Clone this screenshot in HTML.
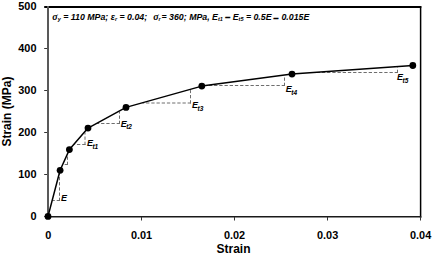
<!DOCTYPE html>
<html><head><meta charset="utf-8">
<style>
html,body{margin:0;padding:0;background:#fff;}
body{width:435px;height:256px;overflow:hidden;position:relative;}
svg{position:absolute;left:0;top:0;}
text{font-family:"Liberation Sans",sans-serif;}
.tl{font-size:11.5px;font-weight:bold;fill:#000;}
.an{font-size:8.8px;font-weight:bold;font-style:italic;fill:#000;}
.sb{font-size:5.5px;font-weight:bold;font-style:italic;fill:#000;}
.lb{font-size:9px;font-weight:bold;font-style:italic;fill:#000;}
.ls{font-size:6.5px;font-weight:bold;font-style:italic;fill:#000;}
.sg{font-family:'Liberation Serif',serif;font-size:10px;font-weight:bold;font-style:italic;}
.ti{font-size:12px;font-weight:bold;fill:#000;}
</style></head>
<body>
<svg width="435" height="256" viewBox="0 0 435 256">
<line x1="44.2" y1="7" x2="421.3" y2="7" stroke="#000" stroke-width="1.8"/>
<line x1="420.6" y1="6.1" x2="420.6" y2="217.8" stroke="#000" stroke-width="1.5"/>
<line x1="47" y1="216.8" x2="421.3" y2="216.8" stroke="#1a1a1a" stroke-width="1.6"/>
<line x1="48" y1="6.1" x2="48" y2="216" stroke="#595959" stroke-width="2"/>
<g stroke="#333" stroke-width="1"><line x1="44.2" y1="48.5" x2="47" y2="48.5"/><line x1="44.2" y1="90.5" x2="47" y2="90.5"/><line x1="44.2" y1="132.5" x2="47" y2="132.5"/><line x1="44.2" y1="174.5" x2="47" y2="174.5"/><line x1="44.2" y1="216.5" x2="47" y2="216.5"/></g>
<g stroke="#333" stroke-width="1"><line x1="141.5" y1="217" x2="141.5" y2="220.5"/><line x1="234.5" y1="217" x2="234.5" y2="220.5"/><line x1="327.5" y1="217" x2="327.5" y2="220.5"/><line x1="420.5" y1="217" x2="420.5" y2="220.5"/></g>
<g class="tl" text-anchor="end">
<text transform="translate(36.5,10.3) scale(0.95,1)">500</text>
<text transform="translate(36.5,51.8) scale(0.95,1)">400</text>
<text transform="translate(36.5,93.8) scale(0.95,1)">300</text>
<text transform="translate(36.5,135.8) scale(0.95,1)">200</text>
<text transform="translate(36.5,177.8) scale(0.95,1)">100</text>
<text transform="translate(36.5,219.8) scale(0.95,1)">0</text>
</g>
<g class="tl" text-anchor="middle">
<text transform="translate(48.3,239.4) scale(0.95,1)">0</text>
<text transform="translate(141.5,239.4) scale(0.95,1)">0.01</text>
<text transform="translate(234.5,239.4) scale(0.95,1)">0.02</text>
<text transform="translate(327.6,239.4) scale(0.95,1)">0.03</text>
<text transform="translate(420.6,239.4) scale(0.95,1)">0.04</text>
</g>
<text class="ti" x="233.5" y="253.0" text-anchor="middle">Strain</text>
<text class="ti" transform="translate(10.8,111.6) rotate(-90)" text-anchor="middle">Strain (MPa)</text>
<g stroke="#6e6e6e" stroke-width="1" stroke-dasharray="3.3,1.9" fill="none">
<path d="M59.5,201.0V173.4M60.0,200.5H53.0"/>
<path d="M67.5,165.0V154.6M68.0,164.5H63.5"/>
<path d="M85.0,145.0V132.4M85.5,144.5H74.6"/>
<path d="M119.5,124.0V111.7M120.0,123.5H97.2"/>
<path d="M190.5,103.5V90.1M191.0,103.0H142.5"/>
<path d="M284.5,86.0V75.9M285.0,85.5H207.1"/>
<path d="M397.5,73.0V67.4M398.0,72.5H315.3"/>
</g>
<polyline points="48.0,216.4 60.1,170.3 69.4,149.6 88,128.1 126,107.4 201.8,86.1 292,74.1 412.8,65.5" stroke="#000" stroke-width="1.5" fill="none" stroke-linejoin="round"/>
<g fill="#000">
<circle cx="48.0" cy="216.4" r="3.4"/>
<circle cx="60.1" cy="170.3" r="3.4"/>
<circle cx="69.4" cy="149.6" r="3.4"/>
<circle cx="88" cy="128.1" r="3.4"/>
<circle cx="126" cy="107.4" r="3.4"/>
<circle cx="201.8" cy="86.1" r="3.4"/>
<circle cx="292" cy="74.1" r="3.4"/>
<circle cx="412.8" cy="65.5" r="3.4"/>
</g>
<text class="lb" x="61.0" y="200.9">E</text>
<text class="lb" x="86.9" y="146.4">E<tspan class="ls" dx="-0.5" dy="2.6">t1</tspan></text>
<text class="lb" x="120.7" y="126.9">E<tspan class="ls" dx="-0.5" dy="2.4">t2</tspan></text>
<text class="lb" x="192.0" y="107.9">E<tspan class="ls" dx="-0.5" dy="2.9">t3</tspan></text>
<text class="lb" x="285.8" y="91.9">E<tspan class="ls" dx="-0.5" dy="2.9">t4</tspan></text>
<text class="lb" x="397.1" y="80.3">E<tspan class="ls" dx="-0.5" dy="2.5">t5</tspan></text>
<text class="an" x="52.3" y="20.2"><tspan class="sg">σ</tspan><tspan class="sb" dy="0.6">y</tspan><tspan dy="-0.6"> = 110 MPa; ε</tspan><tspan class="sb" dy="0.6">r</tspan><tspan dy="-0.6"> = 0.04;&#160; </tspan><tspan class="sg" dx="1.1">σ</tspan><tspan class="sb" dy="0.6">r</tspan><tspan dx="-1.6" dy="-0.6"> = 360; MPa, E</tspan><tspan class="sb" dy="0.6">t1</tspan><tspan dy="-0.6"> </tspan><tspan dy="0.2" style="stroke:#000;stroke-width:0.6">–</tspan><tspan dy="-0.2"> E</tspan><tspan class="sb" dy="0.6">t5</tspan><tspan dy="-0.6"> = 0.5E</tspan><tspan dx="2" dy="0.5" style="stroke:#000;stroke-width:0.6">–</tspan><tspan dx="0.5" dy="-0.5"> 0.015E</tspan></text>
</svg>
</body></html>
